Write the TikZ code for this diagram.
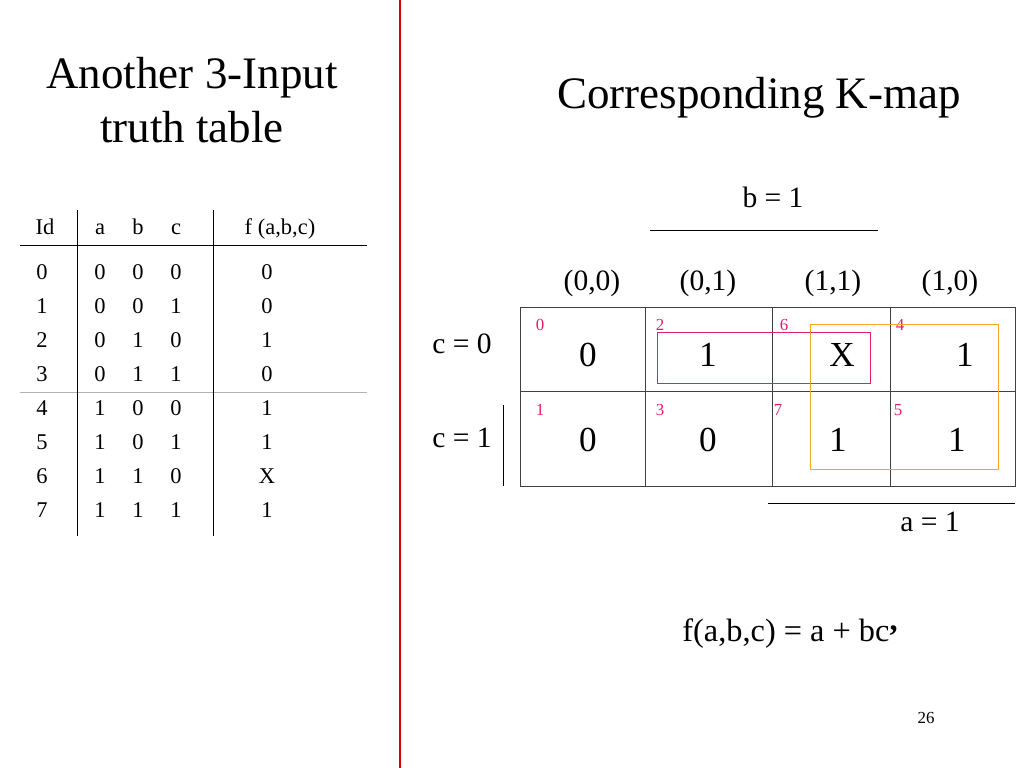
\documentclass[tikz,border=0pt]{standalone}
\usepackage{fontspec}
\setmainfont{Liberation Serif}
\usetikzlibrary{positioning}
\definecolor{kpink}{RGB}{225,30,110}
\definecolor{korange}{RGB}{245,165,40}
\begin{document}
\begin{tikzpicture}[x=0.025cm,y=-0.025cm]
        \tikzstyle{tab} = [font=\fontsize{16}{18}\selectfont, inner sep=0pt]
        \tikzstyle{cell} = [font=\fontsize{25}{28}\selectfont, inner sep=0pt]
        \tikzstyle{idx} = [font=\fontsize{12}{13}\selectfont, text=kpink, inner sep=0pt]
        \tikzstyle{hdr} = [font=\fontsize{21}{24}\selectfont, inner sep=0pt]
        \useasboundingbox (0,0) rectangle (1024,768);
        % divider
        \draw[red!85!black, line width=1.6pt] (400,0) -- (400,768);
        % left title
        \node (title) [font=\fontsize{32}{38}\selectfont, align=center] at (192,100) {Another 3-Input\\truth table};
        % truth table
        \foreach \x/\t in {45/Id,100/a,138/b,176/c,280/{f (a,b,c)}}
            \node [tab, anchor=base] at (\x,234) {\t};
        \foreach \i/\a/\b/\c/\f in {0/0/0/0/0,1/0/0/1/0,2/0/1/0/1,3/0/1/1/0,4/1/0/0/1,5/1/0/1/1,6/1/1/0/X,7/1/1/1/1} {
            \node (id\i) [tab] at (42,272+34*\i) {\i};
            \node (a\i) [tab] at (100,272+34*\i) {\a};
            \node (b\i) [tab] at (138,272+34*\i) {\b};
            \node (c\i) [tab] at (176,272+34*\i) {\c};
            \node (f\i) [tab] at (267,272+34*\i) {\f};
        }
        \draw (20,245) -- (367,245);
        \draw[gray!60] (20,392) -- (367,392);
        \draw (77,210) -- (77,536);
        \draw (213,210) -- (213,536);
        % right title
        \node (ktitle) [font=\fontsize{32}{38}\selectfont] at (759,98) {Corresponding K-map};
        \node (bone) [hdr] at (773,197) {b = 1};
        \draw (650,230) -- (878,230);
        % column headers
        \foreach \x/\t in {592/{(0,0)},708/{(0,1)},833/{(1,1)},950/{(1,0)}}
            \node [hdr] at (\x,283) {\t};
        \node (czero) [hdr] at (462,344) {c = 0};
        \node (cone) [hdr] at (462,438) {c = 1};
        \draw (503,405) -- (503,486);
        % grid
        \draw[black!75] (520,307) rectangle (1015,486);
        \draw[black!75] (520,391) -- (1015,391);
        \foreach \x in {645,772,890} \draw[black!75] (\x,307) -- (\x,486);
        % cells
        \foreach \n/\x/\y/\v in {0/588/355/0,2/708/355/1,6/842/355/X,4/965/355/1,1/588/440/0,3/708/440/0,7/838/440/1,5/957/440/1}
            \node (m\n) [cell] at (\x,\y) {\v};
        \foreach \n/\x/\y in {0/540/325,2/660/325,6/784/325,4/900/325,1/540/410,3/660/410,7/778/410,5/898/410}
            \node [idx] at (\x,\y) {\n};
        % groups
        \draw[kpink, line width=0.6pt] (657,332) rectangle (870,383);
        \draw[korange, line width=0.6pt] (810,324) rectangle (998,469);
        \node (aone) [hdr] at (930,522) {a = 1};
        \draw (768,503) -- (1015,503);
        \node (expr) [font=\fontsize{23}{26}\selectfont] at (790,634) {f(a,b,c) = a + bc\raisebox{0.35em}{\textbf{,}}};
        \node (page) [font=\fontsize{12}{14}\selectfont] at (926,718) {26};
\end{tikzpicture}
\end{document}
